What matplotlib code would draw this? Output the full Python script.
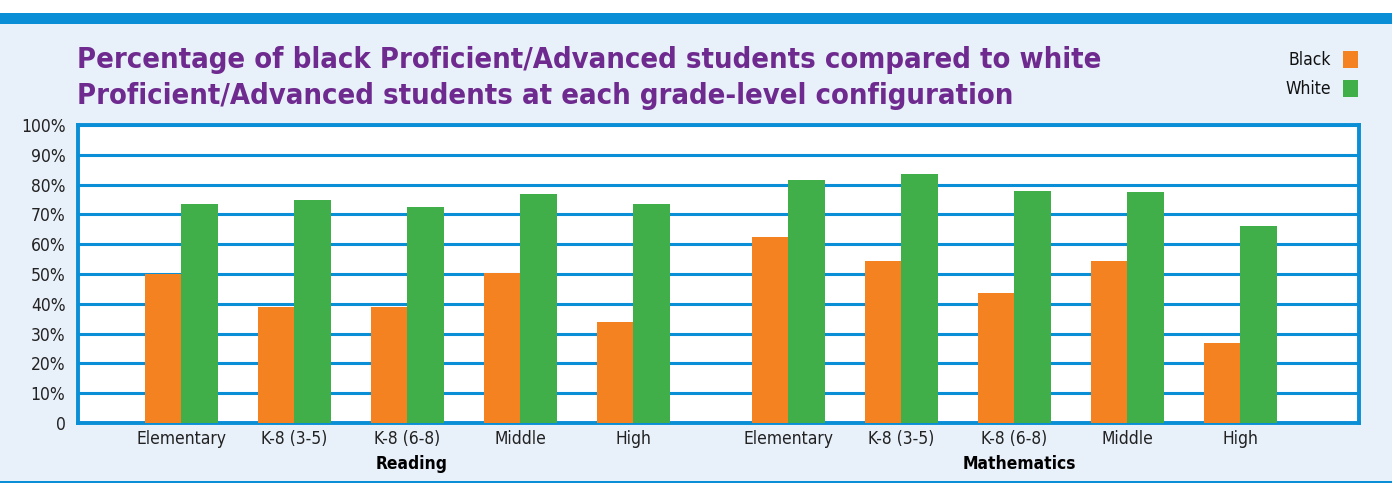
import matplotlib
matplotlib.use("Agg")
import matplotlib.pyplot as plt
import numpy as np
from matplotlib.patches import Rectangle
from matplotlib.transforms import blended_transform_factory

categories = ["Elementary", "K-8 (3-5)", "K-8 (6-8)", "Middle", "High"]
subjects = ["Reading", "Mathematics"]
reading_black = [50, 39, 39, 50.5, 34]
reading_white = [73.5, 75, 72.5, 77, 73.5]
math_black = [62.5, 54.5, 43.5, 54.5, 27]
math_white = [81.5, 83.5, 78, 77.5, 66]
y_ticks = [0, 10, 20, 30, 40, 50, 60, 70, 80, 90, 100]
y_tick_labels = ["0"] + [f"{v}%" for v in y_ticks[1:]]
title_lines = ["Percentage of black Proficient/Advanced students compared to white",
               "Proficient/Advanced students at each grade-level configuration"]

ORANGE = "#F58220"
GREEN = "#40AE49"
BLUE = "#0A8ED6"
PURPLE = "#6E2A8E"
BG = "#E8F0FA"

FONT = ["DejaVu Sans"]
STRETCH = "condensed"


def main() -> None:
    fig = plt.figure(figsize=(13.92, 4.83), dpi=100, facecolor=BG)

    # top white strip, blue band, bottom rule
    fig.patches.append(Rectangle((0, 0.973), 1, 0.027, transform=fig.transFigure,
                                 facecolor="white", edgecolor="none", zorder=0))
    fig.patches.append(Rectangle((0, 0.951), 1, 0.022, transform=fig.transFigure,
                                 facecolor=BLUE, edgecolor="none", zorder=0))
    fig.patches.append(Rectangle((0, 0.0), 1, 0.005, transform=fig.transFigure,
                                 facecolor=BLUE, edgecolor="none", zorder=0))

    ax = fig.add_axes([0.056, 0.1242, 0.9204, 0.617])
    ax.set_facecolor("white")

    gap = 1.372
    x_read = np.arange(len(categories))
    x_math = x_read + len(categories) + gap - 1
    width = 0.323

    black = reading_black + math_black
    white = reading_white + math_white
    xs = np.concatenate([x_read, x_math])
    ax.bar(xs - width / 2, black, width, color=ORANGE, zorder=3)
    ax.bar(xs + width / 2, white, width, color=GREEN, zorder=3)

    ax.set_ylim(0, 100)
    ax.set_xlim(-0.912, x_math[-1] + 1.05)
    ax.set_yticks(y_ticks)
    ax.set_yticklabels(y_tick_labels, family=FONT, stretch=STRETCH, fontsize=12.5,
                       color="#222222")
    ax.set_xticks(xs)
    ax.set_xticklabels(categories * 2, family=FONT, stretch=STRETCH, fontsize=12.5,
                       color="#222222")
    ax.tick_params(length=0, pad=5)
    ax.tick_params(axis="y", pad=9)
    ax.grid(axis="y", color=BLUE, linewidth=2.2, zorder=1)
    ax.set_axisbelow(True)
    for side in ["left", "right", "top", "bottom"]:
        ax.spines[side].set_color(BLUE)
        ax.spines[side].set_linewidth(2.8)

    trans = blended_transform_factory(ax.transData, fig.transFigure)
    for name, pos in zip(subjects, [x_read, x_math]):
        ax.text(pos[2] + 0.04, 0.04, name, transform=trans, ha="center", va="center",
                fontsize=12.5, fontweight="bold", family=FONT, stretch=STRETCH,
                color="black")

    # title, two lines placed at their baselines
    texts = []
    for line, yb in zip(title_lines, [0.8602, 0.7847]):
        texts.append(fig.text(0.055, yb, line, ha="left", va="baseline", fontsize=24,
                              fontweight="heavy", family=FONT, stretch=STRETCH,
                              color=PURPLE))
    # fit the title to the width it has in the reference (about 1026 px)
    renderer = fig.canvas.get_renderer()
    w = texts[0].get_window_extent(renderer).width
    for t in texts:
        t.set_fontsize(24 * 1026 / w)

    # legend
    for label, color, yc in [("Black", ORANGE, 0.876), ("White", GREEN, 0.816)]:
        fig.text(0.956, yc, label, ha="right", va="center", fontsize=12.5,
                 family=FONT, stretch=STRETCH, color="#111111")
        fig.patches.append(Rectangle((0.9648, yc - 0.0175), 0.0105, 0.035,
                                     transform=fig.transFigure, facecolor=color,
                                     edgecolor="none"))

    fig.savefig("out.png", dpi=100, facecolor=BG)
    plt.close(fig)


if __name__ == "__main__":
    main()
